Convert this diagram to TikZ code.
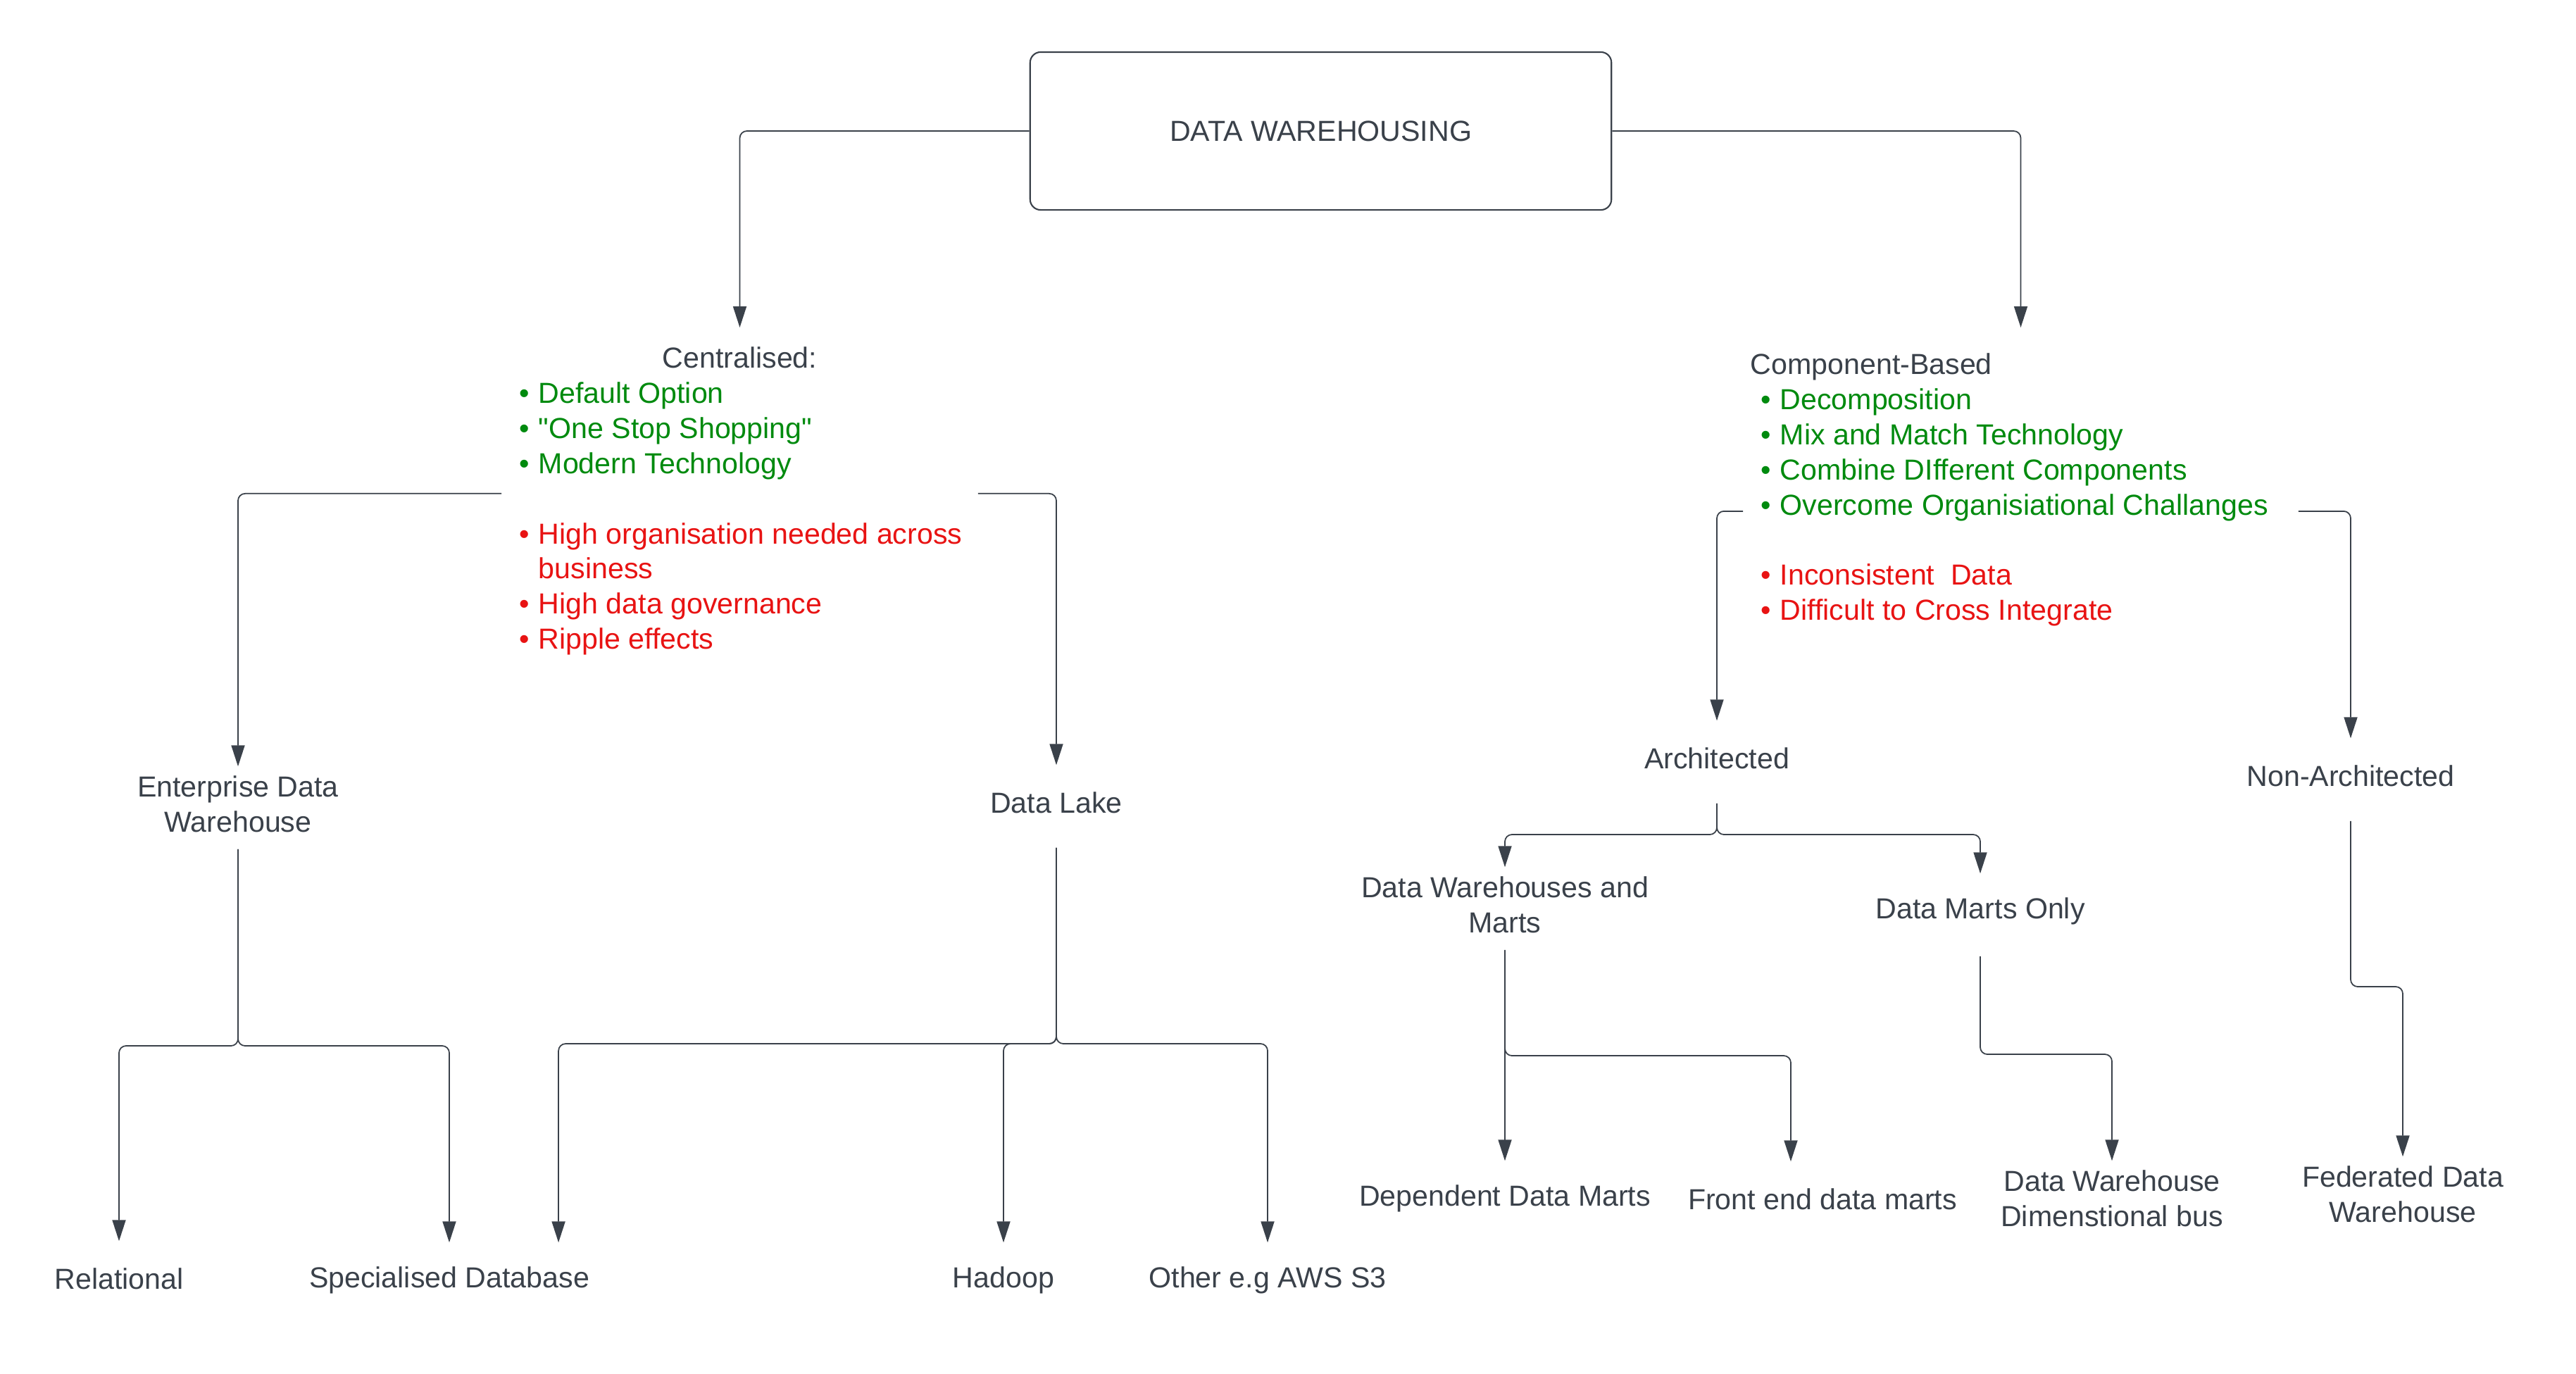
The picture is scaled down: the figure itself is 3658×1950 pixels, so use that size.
\documentclass[tikz,border=0pt]{standalone}
\usepackage{fontspec}
\setmainfont{Liberation Sans}
\usetikzlibrary{arrows.meta}

\definecolor{ink}{HTML}{3A414A}
\definecolor{prosgreen}{HTML}{008A0E}
\definecolor{consred}{HTML}{E81313}

\newcommand{\bitem}[1]{\hspace*{0.25cm}\makebox[0.27cm][l]{\textbullet}#1}

\tikzset{
  lbl/.style={minimum height=1.06cm, align=center},
  link/.style={draw=ink, line width=0.5pt, rounded corners=0.1cm,
    -{Triangle[length=0.3cm,width=0.19cm]}},
  linkout/.style={link, shorten <=0.1cm}
}

\begin{document}
\begin{tikzpicture}[x=0.01cm,y=0.01cm]
\tikzstyle{every node}+=[inner sep=0pt, text=ink, font=\fontsize{11.7pt}{14.17pt}\selectfont]
\useasboundingbox (0,0) rectangle (3658,-1950);

\node [draw=ink, line width=0.6pt, rounded corners=0.15cm, minimum width=8.25cm, minimum height=2.24cm] (root) at (1875.5,-186) {DATA WAREHOUSING};

\node [anchor=north] (cent) at (1050.5,-465) {\parbox[c][4.7cm][t]{6.75cm}{\raggedright
  \makebox[\linewidth]{\rule{0pt}{0.57cm}Centralised:}\\
  \color{prosgreen}\bitem{Default Option}\\
  \bitem{\textquotedbl One Stop Shopping\textquotedbl}\\
  \bitem{Modern Technology}\\[0.5cm]
  \color{consred}\bitem{High organisation needed across}\\
  \hspace*{0.52cm}business\\
  \bitem{High data governance}\\
  \bitem{Ripple effects}}};

\node [anchor=north] (comp) at (2869.5,-465) {\parbox[c][5.2cm][t]{7.87cm}{\raggedright
  \hspace*{0.1cm}\rule{0pt}{0.66cm}Component-Based\\
  \color{prosgreen}\bitem{Decomposition}\\
  \bitem{Mix and Match Technology}\\
  \bitem{Combine DIfferent Components}\\
  \bitem{Overcome Organisiational Challanges}\\[0.5cm]
  \color{consred}\bitem{Inconsistent\ \ Data}\\
  \bitem{Difficult to Cross Integrate}}};

\node [lbl] (edw) at (338,-1142) {Enterprise Data\\Warehouse};
\node [lbl] (dlake) at (1500,-1140) {Data Lake};
\node [lbl] (rel) at (169,-1816) {Relational};
\node [lbl] (spec) at (638,-1818) {Specialised Database};
\node [lbl] (hadoop) at (1425,-1818) {Hadoop};
\node [lbl] (other) at (1800,-1818) {Other e.g AWS S3};

\node [lbl] (arch) at (2438,-1077) {Architected};
\node [lbl] (nonarch) at (3338,-1102) {Non-Architected};
\node [lbl] (dwm) at (2137,-1285) {Data Warehouses and\\Marts};
\node [lbl] (dmo) at (2812,-1294) {Data Marts Only};
\node [lbl] (dep) at (2137,-1702) {Dependent Data Marts};
\node [lbl] (front) at (2588,-1703) {Front end data marts};
\node [lbl] (dwdb) at (2999,-1702) {Data Warehouse\\Dimenstional bus};
\node [lbl] (fed) at (3412,-1696) {Federated Data\\Warehouse};

\coordinate (specin) at ([xshift=1.55cm]spec.north);
\coordinate (frontin) at ([xshift=-0.45cm]front.north);
\coordinate (edwj) at (0,-1485);
\coordinate (dlj) at (0,-1482);
\coordinate (archj) at (0,-1185);
\coordinate (dwmj) at (0,-1499);
\coordinate (dmoj) at (0,-1497);
\coordinate (naj) at (0,-1401);

\draw [link] (root.west) -| (cent.north);
\draw [link] (root.east) -| (comp.north);
\draw [link] (cent.west) -| (edw.north);
\draw [link] (cent.east) -| (dlake.north);
\draw [linkout] (edw.south) |- (rel.north |- edwj) -- (rel.north);
\draw [linkout] (edw.south) |- (spec.north |- edwj) -- (spec.north);
\draw [linkout] (dlake.south) |- (specin |- dlj) -- (specin);
\draw [linkout] (dlake.south) |- (hadoop.north |- dlj) -- (hadoop.north);
\draw [linkout] (dlake.south) |- (other.north |- dlj) -- (other.north);

\draw [link] (comp.west) -| (arch.north);
\draw [link] (comp.east) -| (nonarch.north);
\draw [linkout] (arch.south) |- (dwm.north |- archj) -- (dwm.north);
\draw [linkout] (arch.south) |- (dmo.north |- archj) -- (dmo.north);
\draw [linkout] (dwm.south) -- (dep.north);
\draw [linkout] (dwm.south) |- (frontin |- dwmj) -- (frontin);
\draw [linkout] (dmo.south) |- (dwdb.north |- dmoj) -- (dwdb.north);
\draw [linkout] (nonarch.south) |- (fed.north |- naj) -- (fed.north);
\end{tikzpicture}
\end{document}
